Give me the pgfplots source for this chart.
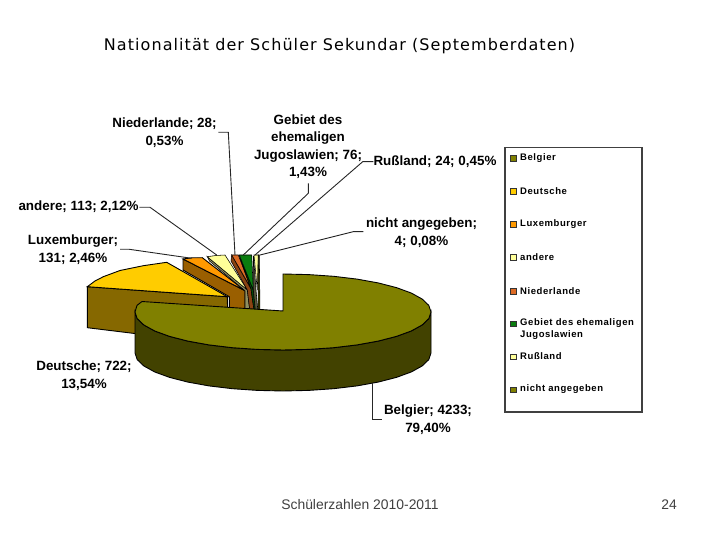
\documentclass[border=0pt]{standalone}
\usepackage{pgfplots}
\pgfplotsset{compat=1.18}
\usepackage{fontspec}
\setmainfont{Liberation Sans}
\newfontfamily\titlefont[LetterSpace=6.7]{DejaVu Sans}
\newfontfamily\lgfont[LetterSpace=6]{Liberation Sans}
\definecolor{belg}{HTML}{808000}
\definecolor{belgw}{HTML}{424200}
\definecolor{deut}{HTML}{FFCC00}
\definecolor{deutw}{HTML}{866800}
\definecolor{lux}{HTML}{FF9900}
\definecolor{luxw}{HTML}{9A5F00}
\definecolor{and}{HTML}{FFFF99}
\definecolor{andw}{HTML}{8F8F60}
\definecolor{nl}{HTML}{DD6A24}
\definecolor{nlw}{HTML}{8A4312}
\definecolor{jug}{HTML}{0A7D0F}
\definecolor{jugw}{HTML}{064A08}
\definecolor{rus}{HTML}{FFFF99}
\definecolor{rusw}{HTML}{55553A}
\tikzset{lab/.style={font=\fontsize{13.4}{17.4}\selectfont\bfseries,align=center,text=black,inner sep=0pt},
 lg/.style={font=\fontsize{9.5}{12}\selectfont\lgfont\bfseries,anchor=west,align=left,text=black,inner sep=0pt},
 ld/.style={draw=black!85,line width=0.9pt,no marks},
 pc/.style={draw=black,line width=0.9pt,no marks},
 pt/.style={draw=black,line width=0.55pt,no marks}}
\begin{document}
\begin{tikzpicture}
\path[use as bounding box] (0,0) rectangle (720pt,540pt);
\begin{axis}[scale only axis,width=720pt,height=540pt,xmin=0,xmax=720,ymin=0,ymax=540,y dir=reverse,hide axis,clip=false,
  /pgf/number format/assume math mode=true]
% Deutsche
\addplot[pc,fill=deutw] coordinates {(87.3,286.7)(227.3,296.7)(228.3,345)(87.3,327.7)} --cycle;
\addplot[pc,fill=deut] coordinates {(87.3,286.7)(95,281)(103.3,276.7)(120,270.5)(143.3,265.7)(166.7,262.3)(227.3,296.7)} --cycle;
% Luxemburger
\addplot[pc,fill=luxw] coordinates {(183,259)(245,290.7)(245,312)(229.3,312)(229.3,296.7)(183,270)} --cycle;
\addplot[pc,fill=lux] coordinates {(183,259)(192,257.8)(202.3,257.7)(245,290.7)} --cycle;
% andere
\addplot[pt,fill=andw] coordinates {(207.3,256.7)(247.3,290)(250,312)(245,312)(245,290.7)(209.5,261)} --cycle;
\addplot[pt,fill=and] coordinates {(207.3,256.7)(216,255.5)(225,255)(247.3,290)} --cycle;
% Niederlande
\addplot[pt,fill=nlw] coordinates {(231.7,255)(251,289)(254.3,312)(250,312)(247.3,290)(231,261)} --cycle;
\addplot[pt,fill=nl] coordinates {(231.7,255)(238.3,255)(251,288.3)} --cycle;
% Gebiet
\addplot[pt,fill=jugw] coordinates {(239.3,256)(253.3,290)(255.5,312)(254.3,312)(251,289)(241,261)} --cycle;
\addplot[pt,fill=jug] coordinates {(239.3,255)(251.7,255)(253.3,290)} --cycle;
% Russland
\addplot[pt,fill=rusw] coordinates {(253.5,256)(256,290)(258,312)(255.5,312)(253.3,290)} --cycle;
\addplot[pt,fill=rus] coordinates {(254,255)(258.3,255)(257.3,290)} --cycle;
% nicht angegeben
\addplot[pt,fill=belgw] coordinates {(258.3,255)(259.3,255)(260,312)(258,312)} --cycle;
% Belgier wall
\addplot[pc,fill=belgw] coordinates {(135,312)(137.2,318.6)(143.9,325)(154.8,331)(169.6,336.4)(187.9,341.1)(209,344.9)(232.4,347.7)(257.3,349.4)(283,350)(308.7,349.4)(333.6,347.7)(357,344.9)(378.1,341.1)(396.4,336.4)(411.2,331)(422.1,325)(428.8,318.6)(431,312)(431,353)(428.8,359.6)(422.1,366)(411.2,372)(396.4,377.4)(378.1,382.1)(357,385.9)(333.6,388.7)(308.7,390.4)(283,391)(257.3,390.4)(232.4,388.7)(209,385.9)(187.9,382.1)(169.6,377.4)(154.8,372)(143.9,366)(137.2,359.6)(135,353)} --cycle;
% Belgier top
\addplot[pc,fill=belg] coordinates {(283,311)(283,274)(308.7,274.6)(333.6,276.3)(357,279.1)(378.1,282.9)(396.4,287.6)(411.2,293)(422.1,299)(428.8,305.4)(431,312)(428.8,318.6)(422.1,325)(411.2,331)(396.4,336.4)(378.1,341.1)(357,344.9)(333.6,347.7)(308.7,349.4)(283,350)(257.3,349.4)(232.4,347.7)(209,344.9)(187.9,341.1)(169.6,336.4)(154.8,331)(143.9,325)(137.2,318.6)(135,312)(137,305.4)(142,301.5)} --cycle;
% leader lines
\addplot[ld] coordinates {(218.3,132.3)(228.3,132.3)(235,255)};
\addplot[ld] coordinates {(139.3,207.3)(150,207.3)(216.7,255)};
\addplot[ld] coordinates {(120,249.3)(129.3,249.3)(191.7,258.3)};
\addplot[ld] coordinates {(308.3,183.3)(308.3,193.3)(243.3,255)};
\addplot[ld] coordinates {(373.3,161.7)(362.7,161.7)(255,255)};
\addplot[ld] coordinates {(363.3,231.7)(353.3,231.7)(260,255)};
\addplot[ld] coordinates {(372.7,383.3)(372.7,419)(382.3,419)};
% legend box
\addplot[draw=black!75,line width=1.1pt,no marks] coordinates {(505,147.5)(642,147.5)(642,412)(505,412)} --cycle;
% legend swatches
\addplot[only marks,mark=square*,mark size=2.8pt,mark options={draw=black!80,fill=belg}] coordinates {(513.3,158.5)};
\addplot[only marks,mark=square*,mark size=2.8pt,mark options={draw=black!80,fill=deut}] coordinates {(513.3,191.5)};
\addplot[only marks,mark=square*,mark size=2.8pt,mark options={draw=black!80,fill=lux}] coordinates {(513.3,224.5)};
\addplot[only marks,mark=square*,mark size=2.8pt,mark options={draw=black!80,fill=and}] coordinates {(513.3,257.5)};
\addplot[only marks,mark=square*,mark size=2.8pt,mark options={draw=black!80,fill=nl}] coordinates {(513.3,291)};
\addplot[only marks,mark=square*,mark size=2.8pt,mark options={draw=black!80,fill=jug}] coordinates {(513.3,323.5)};
\addplot[only marks,mark=square*,mark size=2.8pt,mark options={draw=black!80,fill=rus}] coordinates {(513.3,356.5)};
\addplot[only marks,mark=square*,mark size=2.8pt,mark options={draw=black!80,fill=belg}] coordinates {(513.3,389.5)};
% legend text
\node[lg] at (axis cs:520,158.5) {Belgier};
\node[lg] at (axis cs:520,191.5) {Deutsche};
\node[lg] at (axis cs:520,224.5) {Luxemburger};
\node[lg] at (axis cs:520,257.5) {andere};
\node[lg] at (axis cs:520,291) {Niederlande};
\node[lg] at (axis cs:520,329.5) {Gebiet des ehemaligen\\Jugoslawien};
\node[lg] at (axis cs:520,356.5) {Rußland};
\node[lg] at (axis cs:520,389.5) {nicht angegeben};
% data labels
\node[lab] at (axis cs:164.5,132.5) {Niederlande; 28;\\0,53\%};
\node[lab] at (axis cs:308,146.5) {Gebiet des\\ehemaligen\\Jugoslawien; 76;\\1,43\%};
\node[lab] at (axis cs:435,161.5) {Rußland; 24; 0,45\%};
\node[lab] at (axis cs:421.5,232.5) {nicht angegeben;\\4; 0,08\%};
\node[lab] at (axis cs:78.5,206.5) {andere; 113; 2,12\%};
\node[lab] at (axis cs:73,249.5) {Luxemburger;\\131; 2,46\%};
\node[lab] at (axis cs:84,375.5) {Deutsche; 722;\\13,54\%};
\node[lab] at (axis cs:428,419.5) {Belgier; 4233;\\79,40\%};
% title and footer
\node[font=\fontsize{16}{18}\selectfont\titlefont,inner sep=0pt] at (axis cs:339.5,46) {Nationalität der Schüler Sekundar (Septemberdaten)};
\node[font=\fontsize{13.9}{15}\selectfont,text=black!75,inner sep=0pt] at (axis cs:360,505) {Schülerzahlen 2010-2011};
\node[font=\fontsize{13.9}{15}\selectfont,text=black!75,inner sep=0pt] at (axis cs:669,505) {24};
\end{axis}
\end{tikzpicture}
\end{document}
